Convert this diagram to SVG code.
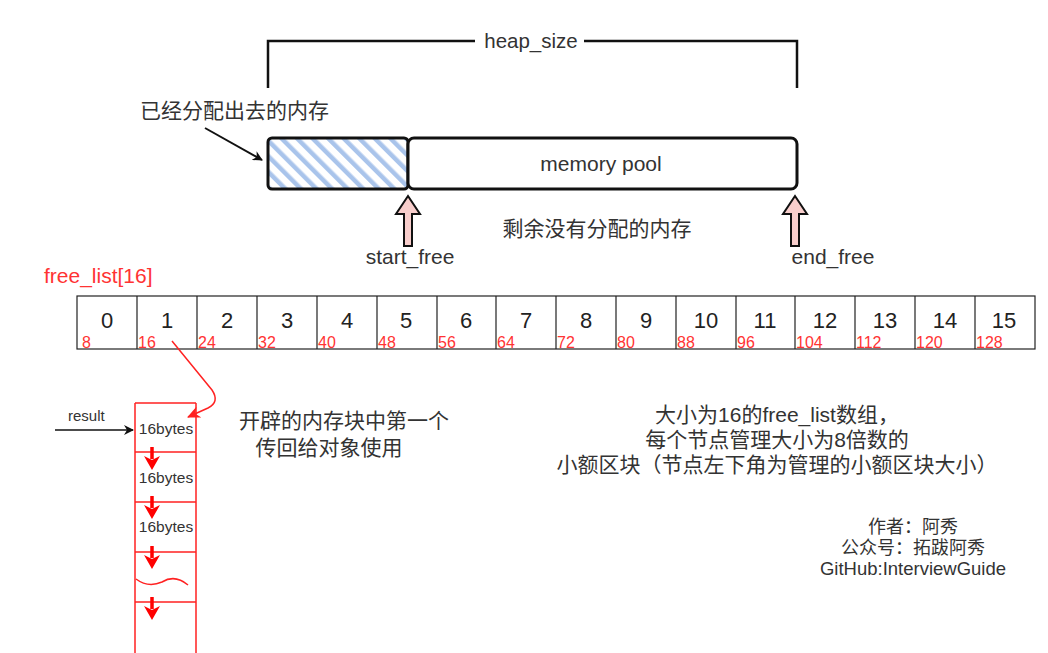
<svg xmlns="http://www.w3.org/2000/svg" width="1048" height="653" viewBox="0 0 1048 653">
<style>
.t{font-family:"Liberation Sans","Noto Sans CJK SC",sans-serif;fill:#333}
.cn{font-family:"Liberation Sans","Noto Sans CJK SC",sans-serif;fill:#333;font-size:21px}
.red{font-family:"Liberation Sans",sans-serif;fill:#f33}
.cell{fill:#fff;stroke:#222;stroke-width:1.2}
.num{font-family:"Liberation Sans",sans-serif;fill:#222;font-size:22px;text-anchor:middle}
.sm{font-family:"Liberation Sans",sans-serif;fill:#f33;font-size:16px}
.rl{stroke:#f22;stroke-width:1.5;fill:none}
.pink{fill:#f8cecc;stroke:#111;stroke-width:2;stroke-linejoin:miter}
</style>
<defs>
<pattern id="hatch" patternUnits="userSpaceOnUse" width="11" height="11" patternTransform="rotate(-45)">
<rect x="0" y="0" width="4.5" height="11" fill="#a9c4eb"/>
</pattern>
<marker id="blk" markerWidth="10" markerHeight="10" refX="9" refY="5" orient="auto" markerUnits="userSpaceOnUse">
<path d="M0,0 L10,5 L0,10 L3,5 Z" fill="#111"/>
</marker>
<marker id="redh" markerWidth="14" markerHeight="12" refX="12" refY="6" orient="auto" markerUnits="userSpaceOnUse">
<path d="M0,0 L13,6 L0,12 L4,6 Z" fill="#f22"/>
</marker>
<g id="downarr">
<line x1="0" y1="0" x2="0" y2="12" stroke="#f00" stroke-width="3.5"/>
<path d="M-8,9 L0,23 L8,9 L0,13 Z" fill="#f00"/>
</g>
</defs>
<rect width="1048" height="653" fill="#fff"/>

<g id="heap_size">
<path d="M268,88 L268,41 L475,41 M584,41 L797,41 L797,88" fill="none" stroke="#111" stroke-width="2.5"/>
<text class="t" x="531" y="48" font-size="20.5" text-anchor="middle">heap_size</text>
</g>

<g id="allocated_label">
<text class="cn" x="140" y="118">已经分配出去的内存</text>
</g>

<g id="allocated">
<rect x="268" y="138" width="140" height="51" rx="4" fill="url(#hatch)" stroke="#111" stroke-width="3"/>
</g>

<g id="memory_pool">
<rect x="408" y="138" width="389" height="51" rx="6" fill="#fff" stroke="#111" stroke-width="3"/>
<text class="t" x="601" y="171" font-size="21" text-anchor="middle">memory pool</text>
</g>

<g id="start_free">
<path class="pink" d="M408,196 L420,214 L412,214 L412,246 L404,246 L404,214 L396,214 Z"/>
<text class="t" x="410" y="264" font-size="21" text-anchor="middle">start_free</text>
</g>

<g id="end_free">
<path class="pink" d="M795,196 L807,214 L799,214 L799,246 L791,246 L791,214 L783,214 Z"/>
<text class="t" x="833" y="264" font-size="21" text-anchor="middle">end_free</text>
</g>

<g id="remaining_label">
<text class="cn" x="597" y="236" text-anchor="middle">剩余没有分配的内存</text>
</g>

<g id="free_list_label">
<text class="red" x="44" y="283" font-size="21">free_list[16]</text>
</g>

<g id="free_list">
<rect class="cell" x="77" y="296" width="958" height="53"/>
<path d="M137,296V349M197,296V349M257,296V349M317,296V349M377,296V349M437,296V349M496,296V349M556,296V349M616,296V349M676,296V349M736,296V349M795,296V349M855,296V349M915,296V349M975,296V349" stroke="#222" stroke-width="1.2"/>
<text class="num" x="107" y="328">0</text>
<text class="num" x="167" y="328">1</text>
<text class="num" x="227" y="328">2</text>
<text class="num" x="287" y="328">3</text>
<text class="num" x="347" y="328">4</text>
<text class="num" x="406" y="328">5</text>
<text class="num" x="466" y="328">6</text>
<text class="num" x="526" y="328">7</text>
<text class="num" x="586" y="328">8</text>
<text class="num" x="646" y="328">9</text>
<text class="num" x="706" y="328">10</text>
<text class="num" x="765" y="328">11</text>
<text class="num" x="825" y="328">12</text>
<text class="num" x="885" y="328">13</text>
<text class="num" x="945" y="328">14</text>
<text class="num" x="1004" y="328">15</text>
<text class="sm" x="82" y="348">8</text>
<text class="sm" x="138" y="348">16</text>
<text class="sm" x="198" y="348">24</text>
<text class="sm" x="258" y="348">32</text>
<text class="sm" x="318" y="348">40</text>
<text class="sm" x="378" y="348">48</text>
<text class="sm" x="438" y="348">56</text>
<text class="sm" x="497" y="348">64</text>
<text class="sm" x="557" y="348">72</text>
<text class="sm" x="617" y="348">80</text>
<text class="sm" x="677" y="348">88</text>
<text class="sm" x="737" y="348">96</text>
<text class="sm" x="796" y="348">104</text>
<text class="sm" x="856" y="348">112</text>
<text class="sm" x="916" y="348">120</text>
<text class="sm" x="976" y="348">128</text>
</g>

<g id="chain">
<path class="rl" d="M135,403 L196,403 M135,403 L135,653 M196,403 L196,653 M135,452 L196,452 M135,502 L196,502 M135,552 L196,552 M135,602 L196,602"/>
<path class="rl" d="M136,579 Q148,588 162,582 Q175,574 188,585"/>
<text class="t" x="166" y="434" font-size="15.5" text-anchor="middle">16bytes</text>
<text class="t" x="166" y="483" font-size="15.5" text-anchor="middle">16bytes</text>
<text class="t" x="166" y="532" font-size="15.5" text-anchor="middle">16bytes</text>
<use href="#downarr" x="152" y="447"/>
<use href="#downarr" x="152" y="496"/>
<use href="#downarr" x="152" y="546"/>
<use href="#downarr" x="152" y="597"/>
</g>

<g id="result_label">
<text class="t" x="68" y="421" font-size="15">result</text>
</g>

<g id="first_block_label">
<text class="cn" x="344" y="428" text-anchor="middle">开辟的内存块中第一个</text>
<text class="cn" x="329" y="455" text-anchor="middle">传回给对象使用</text>
</g>

<g id="desc_label">
<text class="cn" x="777" y="422" text-anchor="middle">大小为16的free_list数组，</text>
<text class="cn" x="777" y="447" text-anchor="middle">每个节点管理大小为8倍数的</text>
<text class="cn" x="777" y="472" text-anchor="middle">小额区块（节点左下角为管理的小额区块大小）</text>
</g>

<g id="author_label">
<text class="t" x="913" y="533" font-size="18" text-anchor="middle">作者：阿秀</text>
<text class="t" x="913" y="554" font-size="18" text-anchor="middle">公众号：拓跋阿秀</text>
<text class="t" x="913" y="575" font-size="18.5" text-anchor="middle">GitHub:InterviewGuide</text>
</g>

<g id="connectors">
<line x1="205" y1="128" x2="262" y2="160" stroke="#111" stroke-width="2" marker-end="url(#blk)"/>
<line x1="55" y1="430" x2="133" y2="430" stroke="#111" stroke-width="1.3" marker-end="url(#blk)"/>
<path d="M172,341 L212,390 Q220,402 208,408 L188,417" class="rl" marker-end="url(#redh)"/>
</g>
</svg>
